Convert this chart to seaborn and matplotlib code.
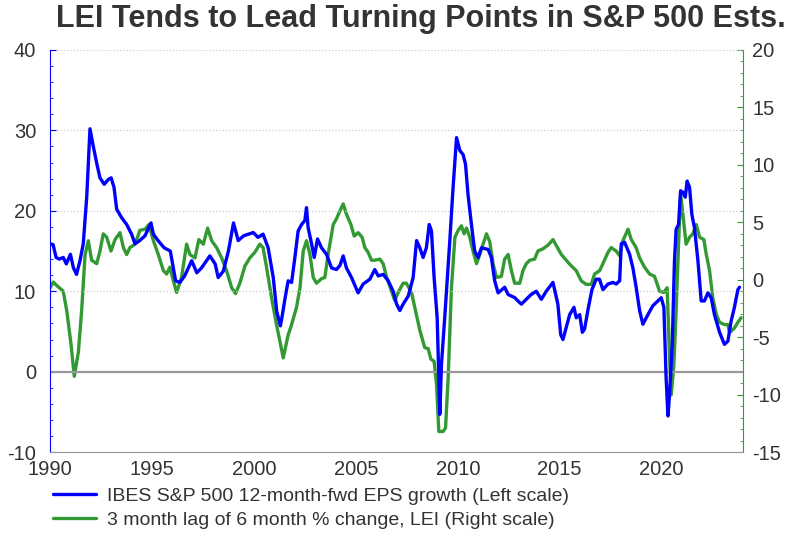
import numpy as np
import pandas as pd
import seaborn as sns
import matplotlib.pyplot as plt
from matplotlib.ticker import MultipleLocator
from matplotlib.lines import Line2D

# IBES S&P 500 12-month-fwd EPS growth (left scale)
eps_years = [1990.0, 1990.15, 1990.3, 1990.45, 1990.65, 1990.8, 1991.0, 1991.15, 1991.3, 1991.47,
             1991.63, 1991.8, 1991.96, 1992.1, 1992.3, 1992.45, 1992.66, 1992.86, 1993.0, 1993.14,
             1993.27, 1993.5, 1993.76, 1994.0, 1994.17, 1994.4, 1994.66, 1994.95, 1995.07, 1995.3,
             1995.6, 1995.9, 1996.05, 1996.16, 1996.37, 1996.6, 1996.95, 1997.2, 1997.43, 1997.84,
             1998.1, 1998.25, 1998.5, 1998.75, 1999.0, 1999.23, 1999.5, 1999.97, 2000.2, 2000.45,
             2000.7, 2000.95, 2001.12, 2001.3, 2001.4, 2001.52, 2001.68, 2001.85, 2002.01, 2002.17,
             2002.34, 2002.5, 2002.58, 2002.66, 2002.83, 2002.96, 2003.12, 2003.32, 2003.56, 2003.81,
             2004.05, 2004.22, 2004.38, 2004.54, 2004.79, 2005.11, 2005.36, 2005.69, 2005.93, 2006.1,
             2006.34, 2006.59, 2006.83, 2007.0, 2007.16, 2007.32, 2007.57, 2007.81, 2007.98, 2008.14,
             2008.3, 2008.46, 2008.6, 2008.71, 2008.84, 2008.99, 2009.12, 2009.2, 2009.36, 2009.61,
             2009.77, 2009.94, 2010.1, 2010.26, 2010.38, 2010.5, 2010.67, 2010.83, 2011.0, 2011.16,
             2011.49, 2011.65, 2011.81, 2011.98, 2012.3, 2012.47, 2012.8, 2012.87, 2013.12, 2013.36,
             2013.6, 2013.85, 2014.1, 2014.34, 2014.67, 2014.91, 2015.05, 2015.16, 2015.32, 2015.49,
             2015.7, 2015.81, 2015.98, 2016.11, 2016.22, 2016.38, 2016.58, 2016.79, 2016.95, 2017.12,
             2017.37, 2017.61, 2017.77, 2017.94, 2018.02, 2018.18, 2018.43, 2018.59, 2018.75, 2018.92,
             2019.08, 2019.33, 2019.57, 2019.82, 2019.98, 2020.11, 2020.22, 2020.31, 2020.39, 2020.52,
             2020.63, 2020.71, 2020.83, 2020.93, 2021.04, 2021.16, 2021.25, 2021.37, 2021.48, 2021.61,
             2021.78, 2021.94, 2022.1, 2022.27, 2022.43, 2022.59, 2022.84, 2023.08, 2023.25, 2023.41,
             2023.57, 2023.74, 2023.82]
eps_growth = [15.9, 15.8, 14.2, 14.0, 14.2, 13.4, 14.6, 12.9, 12.1, 13.8,
              15.9, 21.7, 30.2, 28.3, 25.8, 24.1, 23.3, 23.9, 24.1, 22.9,
              20.2, 19.2, 18.3, 17.1, 15.9, 16.3, 16.9, 18.5, 17.1, 16.3,
              15.4, 15.0, 12.9, 11.3, 11.1, 11.9, 13.8, 12.3, 12.9, 14.4,
              13.4, 11.7, 12.5, 15.0, 18.5, 16.3, 16.9, 17.3, 16.7, 17.1,
              15.4, 11.7, 7.5, 5.7, 7.1, 9.0, 11.3, 11.1, 14.2, 17.5,
              18.3, 18.8, 20.4, 17.9, 15.9, 14.2, 16.5, 15.4, 14.6, 12.9,
              12.7, 13.2, 14.4, 12.9, 11.7, 9.8, 10.9, 11.5, 12.7, 11.9,
              12.1, 11.3, 10.0, 8.4, 7.6, 8.4, 9.4, 11.7, 16.3, 15.4,
              14.2, 15.4, 18.3, 17.5, 11.7, 6.7, -5.3, 0.9, 6.7, 16.3,
              22.9, 29.1, 27.5, 27.0, 25.8, 22.1, 18.3, 15.0, 14.2, 15.4,
              15.2, 14.2, 11.3, 9.8, 10.5, 9.6, 9.2, 9.0, 8.4, 9.0,
              9.6, 10.0, 9.0, 10.0, 11.1, 8.4, 4.6, 4.0, 5.5, 7.1,
              8.0, 6.7, 7.1, 4.9, 5.3, 7.6, 10.2, 11.5, 11.5, 10.2,
              10.9, 11.1, 10.9, 11.3, 15.9, 16.1, 14.6, 12.9, 10.5, 7.6,
              5.9, 7.1, 8.2, 8.8, 9.2, 8.0, -0.8, -5.5, -2.8, 3.4,
              13.8, 17.7, 18.3, 22.5, 22.3, 21.7, 23.7, 22.9, 19.6, 17.9,
              13.8, 8.8, 8.8, 9.8, 9.2, 7.1, 4.9, 3.4, 3.8, 6.3,
              8.0, 10.2, 10.5]

# 3 month lag of 6 month % change in LEI (right scale)
lei_years = [1990.0, 1990.16, 1990.33, 1990.65, 1990.82, 1991.03, 1991.19, 1991.39, 1991.55, 1991.72,
             1991.88, 1992.04, 1992.29, 1992.45, 1992.61, 1992.78, 1992.99, 1993.19, 1993.43, 1993.6,
             1993.76, 1993.92, 1994.17, 1994.41, 1994.66, 1994.85, 1995.07, 1995.31, 1995.56, 1995.72,
             1995.88, 1996.05, 1996.21, 1996.45, 1996.7, 1996.86, 1997.11, 1997.3, 1997.52, 1997.73,
             1997.93, 1998.17, 1998.42, 1998.66, 1998.91, 1999.1, 1999.31, 1999.56, 1999.8, 2000.05,
             2000.29, 2000.45, 2000.62, 2000.87, 2001.11, 2001.27, 2001.44, 2001.68, 2001.85, 2002.09,
             2002.26, 2002.42, 2002.58, 2002.75, 2002.91, 2003.07, 2003.32, 2003.48, 2003.64, 2003.89,
             2004.05, 2004.22, 2004.38, 2004.54, 2004.76, 2004.92, 2005.11, 2005.31, 2005.44, 2005.6,
             2005.77, 2005.93, 2006.18, 2006.34, 2006.5, 2006.75, 2006.91, 2007.08, 2007.32, 2007.48,
             2007.73, 2007.89, 2008.14, 2008.38, 2008.55, 2008.68, 2008.84, 2008.96, 2009.07, 2009.28,
             2009.4, 2009.53, 2009.69, 2009.86, 2010.02, 2010.18, 2010.31, 2010.43, 2010.59, 2010.75,
             2010.92, 2011.08, 2011.24, 2011.41, 2011.57, 2011.73, 2011.9, 2012.14, 2012.3, 2012.47,
             2012.63, 2012.79, 2013.04, 2013.2, 2013.36, 2013.53, 2013.77, 2013.93, 2014.18, 2014.42,
             2014.67, 2014.83, 2015.08, 2015.32, 2015.57, 2015.81, 2016.06, 2016.3, 2016.55, 2016.71,
             2016.96, 2017.12, 2017.37, 2017.53, 2017.77, 2017.94, 2018.1, 2018.35, 2018.51, 2018.75,
             2018.92, 2019.16, 2019.41, 2019.65, 2019.9, 2020.11, 2020.27, 2020.39, 2020.47, 2020.6,
             2020.71, 2020.83, 2020.93, 2021.04, 2021.2, 2021.37, 2021.53, 2021.7, 2021.86, 2022.07,
             2022.19, 2022.35, 2022.51, 2022.68, 2022.84, 2023.08, 2023.25, 2023.33, 2023.57, 2023.74,
             2023.9]
lei_change = [-0.7, -0.2, -0.5, -1.0, -2.7, -5.6, -8.4, -6.3, -2.7, 2.2,
              3.4, 1.7, 1.4, 2.5, 4.0, 3.7, 2.5, 3.5, 4.1, 2.8,
              2.2, 2.8, 3.1, 4.3, 4.4, 4.8, 3.4, 2.2, 0.8, 0.5,
              1.1, -0.1, -1.1, 0.2, 3.1, 2.2, 1.9, 3.5, 3.1, 4.5,
              3.4, 2.8, 1.9, 0.8, -0.7, -1.2, -0.3, 1.2, 1.9, 2.4,
              3.1, 2.8, 1.1, -1.6, -3.9, -5.3, -6.8, -4.8, -3.9, -2.4,
              -0.7, 2.5, 3.4, 2.2, 0.2, -0.3, 0.1, 0.2, 2.2, 4.8,
              5.3, 6.0, 6.6, 5.7, 4.8, 3.8, 4.1, 3.7, 2.8, 2.4,
              1.7, 1.7, 1.8, 1.4, 0.3, -1.0, -1.8, -1.1, -0.3, -0.3,
              -1.1, -2.4, -4.4, -5.9, -6.0, -6.9, -7.1, -9.1, -13.2, -13.2,
              -12.9, -8.5, -0.7, 3.7, 4.3, 4.7, 4.0, 4.5, 3.7, 2.5,
              1.4, 2.2, 3.1, 4.0, 3.3, 1.4, 0.2, 0.3, 1.8, 2.2,
              0.8, -0.3, -0.3, 0.8, 1.4, 1.7, 1.8, 2.5, 2.7, 3.0,
              3.5, 3.0, 2.2, 1.7, 1.2, 0.8, -0.1, -0.4, -0.4, 0.5,
              0.8, 1.4, 2.4, 2.8, 2.5, 2.1, 3.4, 4.4, 3.5, 2.8,
              1.9, 1.1, 0.5, 0.3, -1.0, -1.1, -0.7, -6.8, -10.0, -7.4,
              -2.7, 3.1, 7.5, 5.7, 3.1, 3.7, 4.0, 4.8, 3.7, 3.5,
              2.2, 0.8, -1.6, -3.0, -3.7, -3.9, -3.9, -4.6, -4.2, -3.7,
              -3.3]

eps_label = "IBES S&P 500 12-month-fwd EPS growth (Left scale)"
lei_label = "3 month lag of 6 month % change, LEI (Right scale)"

df_eps = pd.DataFrame({"Year": eps_years, "EPS": eps_growth})
df_lei = pd.DataFrame({"Year": lei_years, "LEI": lei_change})

sns.set_style("white")
plt.rcParams['font.family'] = ['Liberation Sans', 'DejaVu Sans']
plt.rcParams['axes.unicode_minus'] = False

blue = "#0000ff"
green = "#339933"
text_col = "#333333"

fig = plt.figure(figsize=(7.94, 5.37), dpi=100)
ax = fig.add_axes([0.063, 0.158, 0.873, 0.749])
ax2 = ax.twinx()

sns.lineplot(x="Year", y="EPS", data=df_eps, ax=ax, color=blue, linewidth=2.4, estimator=None, zorder=3)
sns.lineplot(x="Year", y="LEI", data=df_lei, ax=ax2, color=green, linewidth=2.4, estimator=None, zorder=2)

ax.set_zorder(ax2.get_zorder() + 1)
ax.patch.set_visible(False)

ax.set_xlim(1990, 2024)
ax.set_ylim(-10, 40)
ax2.set_ylim(-15, 20)

ax.xaxis.set_major_locator(MultipleLocator(5))
ax.xaxis.set_minor_locator(MultipleLocator(1))
ax.yaxis.set_major_locator(MultipleLocator(10))
ax.yaxis.set_minor_locator(MultipleLocator(2))
ax2.yaxis.set_major_locator(MultipleLocator(5))
ax2.yaxis.set_minor_locator(MultipleLocator(1))

ax.yaxis.grid(True, which="major", linestyle=":", color="#cccccc", linewidth=0.9)
ax.axhline(0, color="#999999", linewidth=1.6, zorder=1)

ax.set_xlabel("")
ax.set_ylabel("")
ax2.set_ylabel("")

ax.spines["top"].set_visible(False)
ax2.spines["top"].set_visible(False)
ax.spines["left"].set_color(blue)
ax.spines["bottom"].set_color("#999999")
ax.spines["right"].set_visible(False)
ax2.spines["left"].set_visible(False)
ax2.spines["bottom"].set_visible(False)
ax2.spines["right"].set_color(green)

ax.tick_params(axis="y", which="both", direction="in", colors=blue, labelcolor=text_col,
               labelsize=14.5, length=4, pad=10)
ax.tick_params(axis="y", which="minor", length=2.5)
ax.tick_params(axis="x", which="both", direction="in", colors="#999999", labelcolor=text_col,
               labelsize=14.5, length=4, pad=6)
ax.tick_params(axis="x", which="minor", length=2.5)
ax2.tick_params(axis="y", which="both", direction="in", colors=green, labelcolor=text_col,
                labelsize=14.5, length=4, pad=6.5)
ax2.tick_params(axis="y", which="minor", length=2.5)

fig.text(0.530, 0.965, "LEI Tends to Lead Turning Points in S&P 500 Ests.", ha="center", va="center",
         fontsize=22, fontweight="bold", color=text_col)

handles = [Line2D([0], [0], color=blue, linewidth=2.4), Line2D([0], [0], color=green, linewidth=2.4)]
fig.legend(handles, [eps_label, lei_label], loc="upper left", bbox_to_anchor=(0.067, 0.092),
           frameon=False, handlelength=2.2, fontsize=14, labelcolor=text_col,
           labelspacing=0.3, handletextpad=0.55, borderaxespad=0, borderpad=0)

fig.savefig("out.png", dpi=100)
